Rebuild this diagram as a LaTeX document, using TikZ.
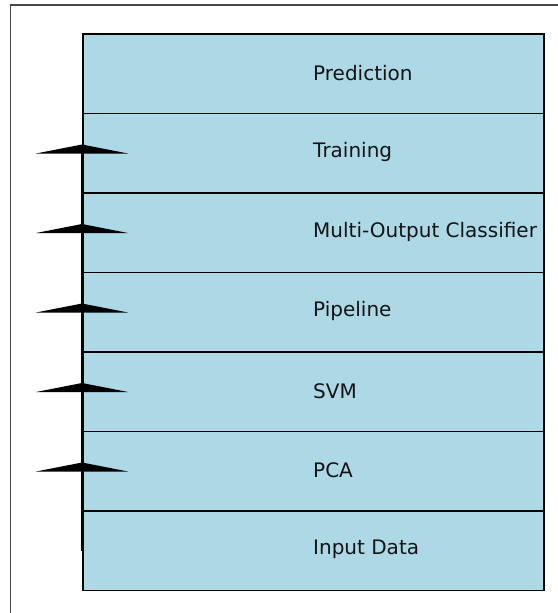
\documentclass[tikz,border=0pt]{standalone}
\usepackage{fontspec}
\setmainfont{DejaVu Sans}
\usetikzlibrary{calc}
\begin{document}
\begin{tikzpicture}[x=1pt,y=-1pt,
  layer/.style={draw=black,line width=1.5pt,fill=lightblue,minimum width=461pt,minimum height=79.5pt,inner sep=0pt,anchor=north west},
  lbl/.style={font=\fontsize{20}{22}\selectfont,anchor=west,inner sep=0pt,text=black!92},
  stem/.style={line width=2.6pt,black},
  head/.style={fill=black,draw=none}]
\definecolor{lightblue}{HTML}{ADD8E6}
\useasboundingbox (0,0) rectangle (557,613);
% axes frame
\draw[line width=1.5pt,black!72] (10.5,620) -- (10.5,5) -- (565,5);
% stacked layers, top to bottom
\foreach \name/\txt [count=\i from 0] in {pred/Prediction,train/Training,moc/Multi-Output Classifier,pipe/Pipeline,svm/SVM,pca/PCA,input/Input Data}{
  \node[layer] (\name) at (82,{33+79.5*\i}) {};
  \node[lbl] (\name-t) at (313,{72.75+79.5*\i}) {\txt};
}
% flow upwards along the left edge
\draw[stem] (input.west) -- ($(train.west)+(0,-8)$);
\foreach \name in {train,moc,pipe,svm,pca}{
  \coordinate (h-\name) at (\name.west);
  \fill[head] ($(h-\name)+(0,-8.5)$) -- ($(h-\name)+(-46,0.5)$) -- ($(h-\name)+(46,0.5)$) -- cycle;
}
\end{tikzpicture}
\end{document}
